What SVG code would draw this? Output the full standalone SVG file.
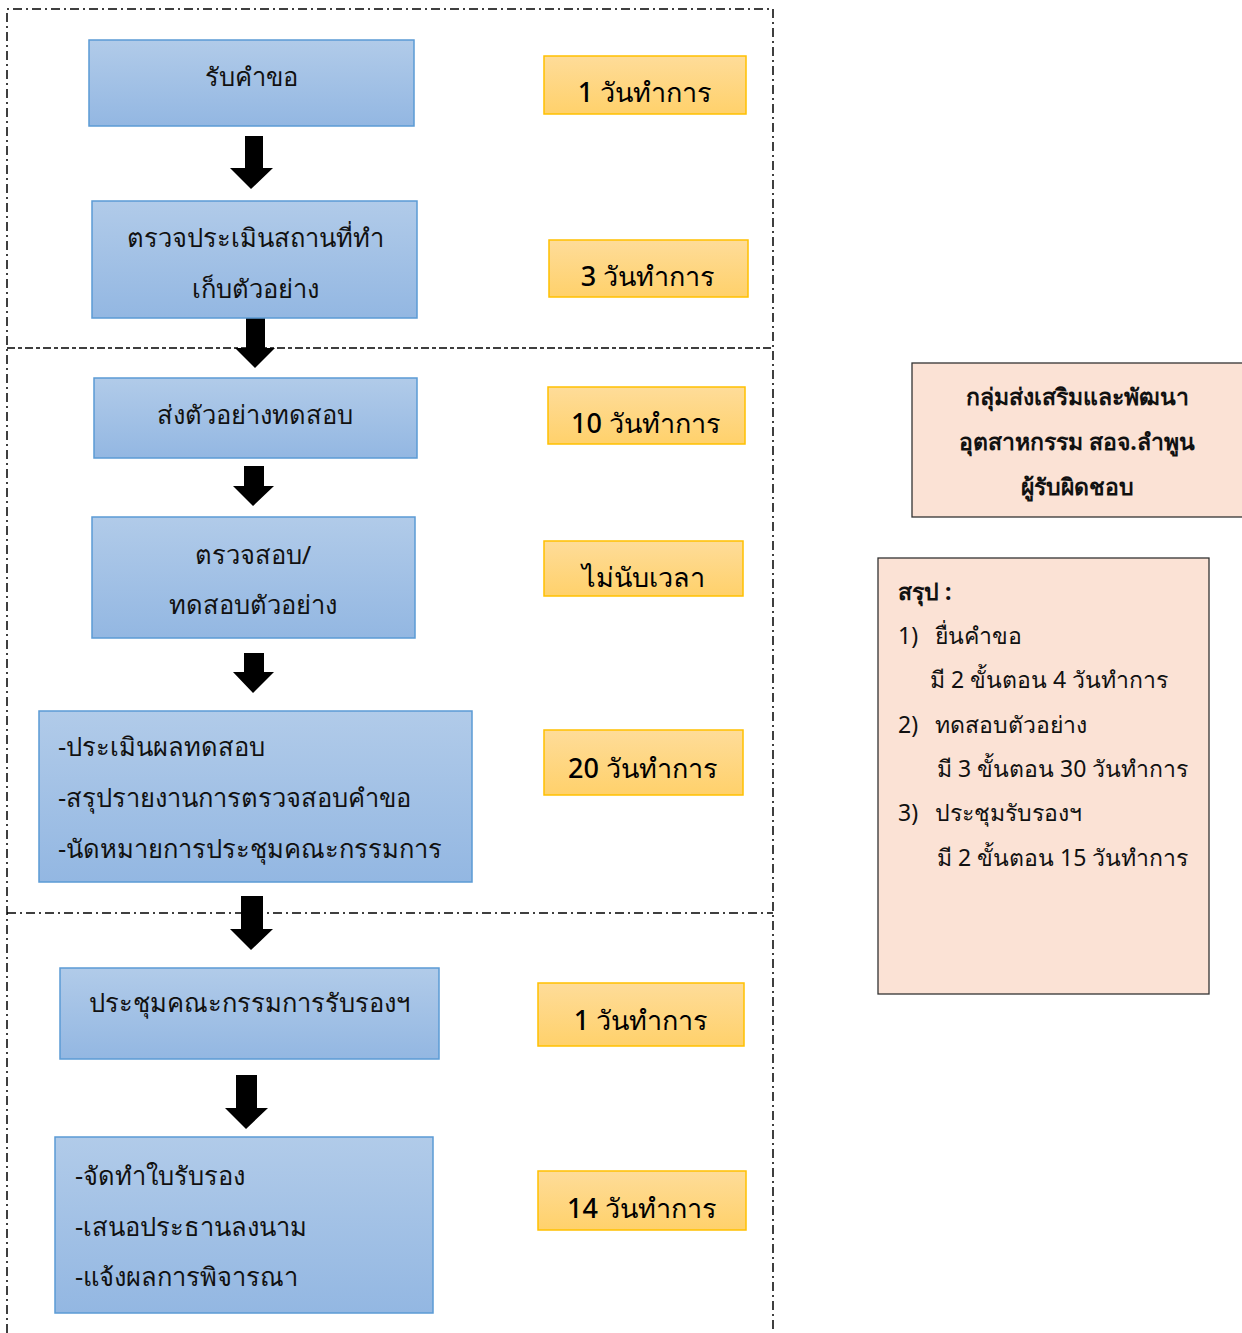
<svg xmlns="http://www.w3.org/2000/svg" width="1242" height="1333" viewBox="0 0 1242 1333">
<defs>
<linearGradient id="gb" x1="0" y1="0" x2="0" y2="1"><stop offset="0" stop-color="#B1CBE9"/><stop offset="1" stop-color="#93B7E2"/></linearGradient>
<linearGradient id="go" x1="0" y1="0" x2="0" y2="1"><stop offset="0" stop-color="#FEDC99"/><stop offset="1" stop-color="#FFD16B"/></linearGradient>
<style>
.b{fill:url(#gb);stroke:#5B9BD5;stroke-width:1.5}
.o{fill:url(#go);stroke:#FFC000;stroke-width:1.5}
.p{fill:#FBE2D5;stroke:#333;stroke-width:1.3}
.t{font-family:"Noto Sans","DejaVu Sans",sans-serif;font-size:25.5px;fill:#111}
.to{font-family:"Noto Sans","DejaVu Sans",sans-serif;font-size:27px;fill:#000;font-weight:500}
.tr{font-family:"Noto Sans","DejaVu Sans",sans-serif;font-size:23px;fill:#111}
.tb{font-weight:bold}
.c{text-anchor:middle}
.f{fill:none;stroke:#000;stroke-width:1.5}
.ar{fill:#000}
</style>
</defs>
<rect width="1242" height="1333" fill="#fff"/>
<g id="frame">
<path class="f" d="M7,1333 V9 H773 V1333" stroke-dasharray="9 4 2 4"/>
<path class="f" d="M7,348 H773" stroke-dasharray="8 3 4 3"/>
<path class="f" d="M7,913 H773" stroke-dasharray="9 4 2 4"/>
</g>
<g id="connectors">
<polygon class="ar" points="245,136 263,136 263,168 273,168 251,189 230,168 245,168"/>
<polygon class="ar" points="246,318 265,318 265,348 275,348 255,368 235,348 246,348"/>
<polygon class="ar" points="244,466 264,466 264,486 274,486 253,506 233,486 244,486"/>
<polygon class="ar" points="244,653 264,653 264,672 274,672 253,693 233,672 244,672"/>
<polygon class="ar" points="241,896 263,896 263,929 273,929 251,950 230,929 241,929"/>
<polygon class="ar" points="236,1075 257,1075 257,1108 268,1108 246,1129 225,1108 236,1108"/>
</g>
<g id="n1"><rect class="b" x="89" y="40" width="325" height="86"/><text class="t c" x="251" y="86">รับคำขอ</text></g>
<g id="n2"><rect class="b" x="92" y="201" width="325" height="117"/><text class="t c" x="255" y="247">ตรวจประเมินสถานที่ทำ</text><text class="t c" x="255" y="298">เก็บตัวอย่าง</text></g>
<g id="n3"><rect class="b" x="94" y="378" width="323" height="80"/><text class="t c" x="255" y="424">ส่งตัวอย่างทดสอบ</text></g>
<g id="n4"><rect class="b" x="92" y="517" width="323" height="121"/><text class="t c" x="253" y="564">ตรวจสอบ/</text><text class="t c" x="253" y="614">ทดสอบตัวอย่าง</text></g>
<g id="n5"><rect class="b" x="39" y="711" width="433" height="171"/><text class="t" x="58" y="756">-ประเมินผลทดสอบ</text><text class="t" x="58" y="807">-สรุปรายงานการตรวจสอบคำขอ</text><text class="t" x="58" y="858">-นัดหมายการประชุมคณะกรรมการ</text></g>
<g id="n6"><rect class="b" x="60" y="968" width="379" height="91"/><text class="t c" x="249" y="1012">ประชุมคณะกรรมการรับรองฯ</text></g>
<g id="n7"><rect class="b" x="55" y="1137" width="378" height="176"/><text class="t" x="75" y="1185">-จัดทำใบรับรอง</text><text class="t" x="75" y="1236">-เสนอประธานลงนาม</text><text class="t" x="75" y="1286">-แจ้งผลการพิจารณา</text></g>
<g id="d1"><rect class="o" x="544" y="56" width="202" height="58"/><text class="to c" x="645" y="102">1 วันทำการ</text></g>
<g id="d2"><rect class="o" x="549" y="240" width="199" height="57"/><text class="to c" x="648" y="286">3 วันทำการ</text></g>
<g id="d3"><rect class="o" x="548" y="387" width="197" height="57"/><text class="to c" x="646" y="433">10 วันทำการ</text></g>
<g id="d4"><rect class="o" x="544" y="541" width="199" height="55"/><text class="to c" x="643" y="587">ไม่นับเวลา</text></g>
<g id="d5"><rect class="o" x="544" y="730" width="199" height="65"/><text class="to c" x="643" y="778">20 วันทำการ</text></g>
<g id="d6"><rect class="o" x="538" y="983" width="206" height="63"/><text class="to c" x="641" y="1030">1 วันทำการ</text></g>
<g id="d7"><rect class="o" x="538" y="1171" width="208" height="59"/><text class="to c" x="642" y="1218">14 วันทำการ</text></g>
<g id="owner"><rect class="p" x="912" y="363" width="335" height="154"/>
<text class="tr tb c" x="1077" y="405">กลุ่มส่งเสริมและพัฒนา</text>
<text class="tr tb c" x="1077" y="450">อุตสาหกรรม สอจ.ลำพูน</text>
<text class="tr tb c" x="1077" y="495">ผู้รับผิดชอบ</text></g>
<g id="summary"><rect class="p" x="878" y="558" width="331" height="436"/>
<text class="tr tb" x="898" y="600">สรุป :</text>
<text class="tr" x="898" y="644">1)<tspan x="935">ยื่นคำขอ</tspan></text>
<text class="tr" x="930" y="688">มี 2 ขั้นตอน 4 วันทำการ</text>
<text class="tr" x="898" y="733">2)<tspan x="935">ทดสอบตัวอย่าง</tspan></text>
<text class="tr" x="937" y="777">มี 3 ขั้นตอน 30 วันทำการ</text>
<text class="tr" x="898" y="821">3)<tspan x="935">ประชุมรับรองฯ</tspan></text>
<text class="tr" x="937" y="866">มี 2 ขั้นตอน 15 วันทำการ</text></g>
</svg>
